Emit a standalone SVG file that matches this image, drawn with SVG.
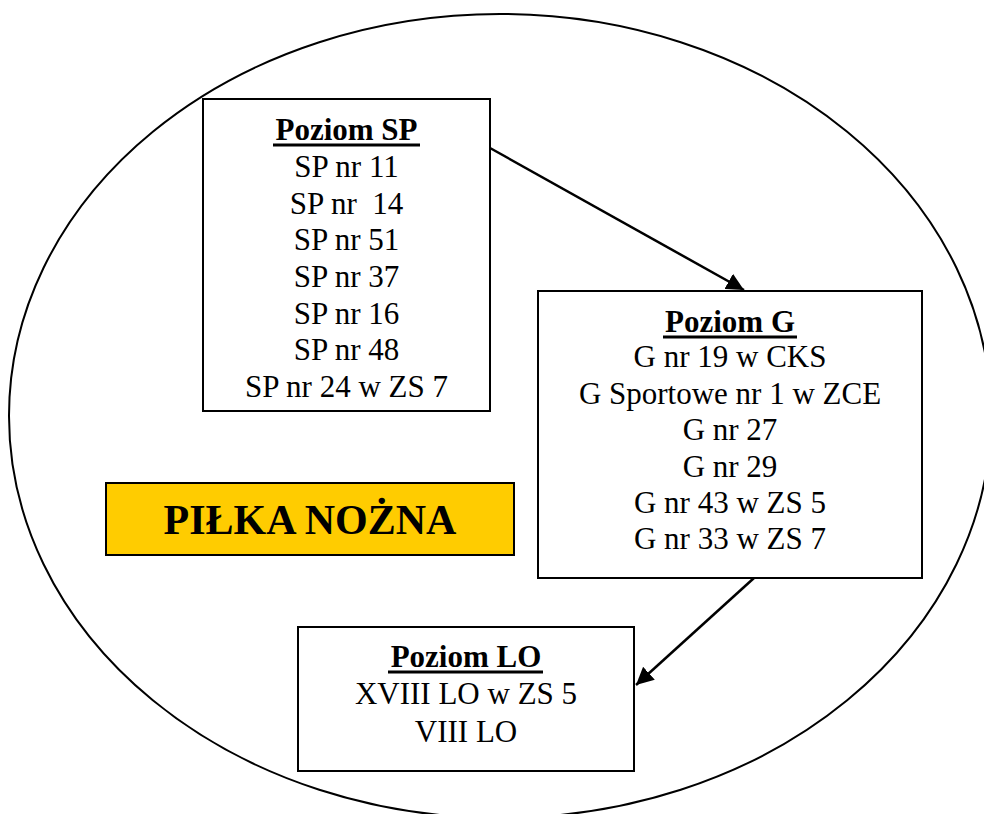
<svg xmlns="http://www.w3.org/2000/svg" width="984" height="814" viewBox="0 0 984 814">
<style>
.box{fill:#fff;stroke:#000;stroke-width:2}
.t{font-family:'Liberation Serif','DejaVu Serif',serif;font-size:31px;text-anchor:middle;fill:#000}
.h{font-weight:bold}
.ul{stroke:#000;stroke-width:3}
.conn{stroke:#000;stroke-width:2.5;fill:none}
</style>
<defs>
<marker id="arr" viewBox="0 0 10 10" refX="10" refY="5" markerWidth="7" markerHeight="7" markerUnits="strokeWidth" orient="auto">
<path d="M0,0 L10,5 L0,10 z" fill="#000"/>
</marker>
</defs>
<rect width="984" height="814" fill="#fff"/>
<g id="frame">
<ellipse cx="500" cy="416" rx="491" ry="402" fill="none" stroke="#000" stroke-width="2"/>
</g>
<g id="connectors">
<line class="conn" x1="490" y1="148" x2="744" y2="290" marker-end="url(#arr)"/>
<line class="conn" x1="754" y1="578" x2="636" y2="685" marker-end="url(#arr)"/>
</g>
<g id="sp" font-family="Liberation Serif, serif">
<rect class="box" x="203" y="99" width="287" height="312"/>
<text class="t h" x="346.5" y="140">Poziom SP</text>
<line class="ul" x1="273" y1="145" x2="420" y2="145"/>
<text class="t" x="346.5" y="177">SP nr 11</text>
<text class="t" x="346.5" y="213.7" xml:space="preserve">SP nr  14</text>
<text class="t" x="346.5" y="250.3">SP nr 51</text>
<text class="t" x="346.5" y="287">SP nr 37</text>
<text class="t" x="346.5" y="323.7">SP nr 16</text>
<text class="t" x="346.5" y="360.3">SP nr 48</text>
<text class="t" x="346.5" y="397">SP nr 24 w ZS 7</text>
</g>
<g id="g">
<rect class="box" x="538" y="291" width="384" height="287"/>
<text class="t h" x="730" y="332">Poziom G</text>
<line class="ul" x1="663" y1="337" x2="797" y2="337"/>
<text class="t" x="730" y="367">G nr 19 w CKS</text>
<text class="t" x="730" y="403.5">G Sportowe nr 1 w ZCE</text>
<text class="t" x="730" y="440">G nr 27</text>
<text class="t" x="730" y="476.5">G nr 29</text>
<text class="t" x="730" y="512.7">G nr 43 w ZS 5</text>
<text class="t" x="730" y="549">G nr 33 w ZS 7</text>
</g>
<g id="lo">
<rect class="box" x="298" y="627" width="336" height="144"/>
<text class="t h" x="466" y="667">Poziom LO</text>
<line class="ul" x1="388" y1="672" x2="543" y2="672"/>
<text class="t" x="466" y="704">XVIII LO w ZS 5</text>
<text class="t" x="466" y="742">VIII LO</text>
</g>
<g id="title">
<rect x="106" y="483" width="408" height="72" fill="#FFCC00" stroke="#000" stroke-width="2"/>
<text class="t h" x="310" y="534" style="font-size:42px">PIŁKA NOŻNA</text>
</g>
</svg>
